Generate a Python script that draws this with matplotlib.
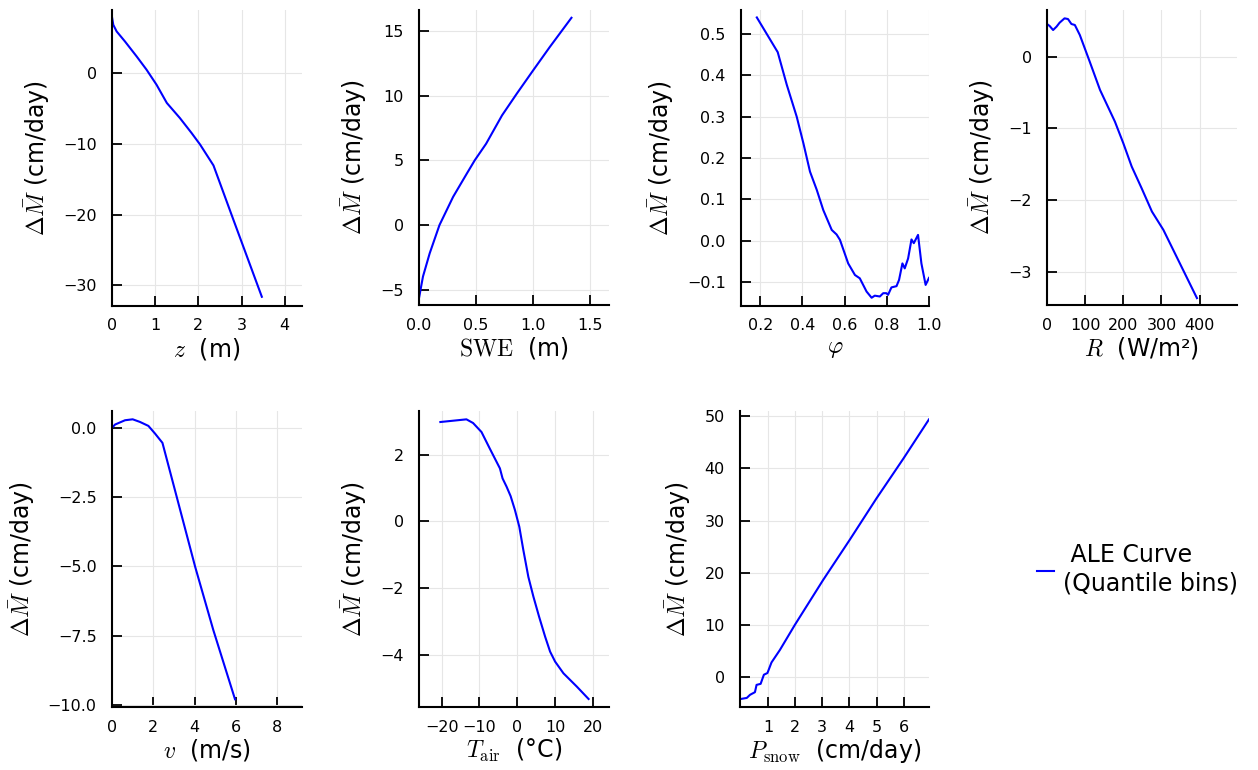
import numpy as np
import matplotlib
matplotlib.use('Agg')
import matplotlib.pyplot as plt
from matplotlib.lines import Line2D

plt.rcParams['mathtext.fontset'] = 'cm'
plt.rcParams['font.family'] = 'DejaVu Sans'

# ── ALE curves ───────────────────────────────────────────────────
z_x = [0, 0.03, 0.108, 0.30, 0.57, 0.80, 1.03, 1.27, 1.57, 1.84, 2.04, 2.35, 2.81, 3.47]
z_y = [7.9, 6.8, 5.87, 4.46, 2.35, 0.47, -1.64, -4.23, -6.34, -8.45, -10.1, -13.05, -20.7, -31.6]

swe_x = [0, 0.035, 0.094, 0.18, 0.30, 0.42, 0.49, 0.59, 0.73, 0.86, 1.0, 1.15, 1.34]
swe_y = [-5.64, -3.97, -2.18, 0.0, 2.18, 3.97, 5.0, 6.28, 8.47, 10.15, 11.9, 13.75, 16.0]

phi_x = [0.184, 0.283, 0.326, 0.373, 0.405, 0.436, 0.468, 0.499, 0.539, 0.562, 0.578,
         0.617, 0.649, 0.672, 0.704, 0.728, 0.743, 0.767, 0.783, 0.798, 0.806, 0.822,
         0.846, 0.858, 0.874, 0.885, 0.901, 0.917, 0.928, 0.948, 0.964, 0.984, 1.0]
phi_y = [0.540, 0.456, 0.377, 0.300, 0.235, 0.167, 0.123, 0.074, 0.026, 0.015, 0.002,
         -0.055, -0.083, -0.091, -0.123, -0.138, -0.133, -0.135, -0.127, -0.127, -0.131,
         -0.113, -0.110, -0.095, -0.055, -0.067, -0.043, 0.003, -0.006, 0.014, -0.055,
         -0.107, -0.090]

r_x = [0, 7, 16, 25, 33, 46, 55, 64, 73, 86, 99, 112, 139, 178, 200, 222, 248, 275, 305, 393]
r_y = [0.455, 0.427, 0.371, 0.418, 0.473, 0.534, 0.524, 0.455, 0.441, 0.302, 0.116,
       -0.07, -0.464, -0.905, -1.206, -1.531, -1.833, -2.158, -2.413, -3.364]

v_x = [0, 0.145, 0.63, 1.0, 1.35, 1.76, 2.08, 2.44, 3.13, 4.02, 4.9, 5.95]
v_y = [0, 0.12, 0.276, 0.31, 0.216, 0.072, -0.204, -0.54, -2.49, -5.01, -7.3, -9.8]

t_x = [-20.35, -13.45, -11.7, -9.47, -7.26, -4.6, -3.9, -2.83, -1.77, -0.62, 0.53, 1.6,
       2.92, 4.25, 5.75, 7.35, 8.67, 10.0, 12.2, 15.75, 18.85]
t_y = [2.98, 3.06, 2.95, 2.68, 2.18, 1.59, 1.29, 1.04, 0.76, 0.34, -0.16, -0.86,
       -1.66, -2.25, -2.85, -3.45, -3.9, -4.2, -4.55, -4.95, -5.32]

p_x = [0.0, 0.22, 0.34, 0.52, 0.58, 0.73, 0.85, 0.98, 1.13, 1.44, 1.99, 3.03, 4.01, 4.99, 5.99, 6.93]
p_y = [-4.2, -4.0, -3.4, -2.9, -1.5, -1.3, 0.45, 0.77, 2.8, 5.2, 10.0, 18.6, 26.3, 34.2, 41.9, 49.4]

YLABEL = r'$\Delta\bar{M}$ (cm/day)'

panels = [
    # (x, y, xlabel, xlim, ylim, xticks, yticks, pixel box l, t, r, b)
    (z_x, z_y, r'$z$  (m)', (0, 4.4), (-32.9, 8.9), [0, 1, 2, 3, 4], [0, -10, -20, -30], (112, 10, 302, 306)),
    (swe_x, swe_y, r'$\mathrm{SWE}$  (m)', (0, 1.67), (-6.17, 16.6), [0, 0.5, 1.0, 1.5], [-5, 0, 5, 10, 15], (419, 10, 609, 305)),
    (phi_x, phi_y, r'$\varphi$', (0.109, 1.0), (-0.158, 0.558), [0.2, 0.4, 0.6, 0.8, 1.0],
     [-0.1, 0.0, 0.1, 0.2, 0.3, 0.4, 0.5], (741, 10, 929, 306)),
    (r_x, r_y, r'$R$  (W/m²)', (0, 498), (-3.46, 0.65), [0, 100, 200, 300, 400], [0, -1, -2, -3], (1047, 10, 1237, 305)),
    (v_x, v_y, r'$v$  (m/s)', (0, 9.19), (-10.08, 0.61), [0, 2, 4, 6, 8], [0, -2.5, -5, -7.5, -10], (112, 411, 302, 707)),
    (t_x, t_y, r'$T_{\mathrm{air}}$  (°C)', (-26.0, 24.25), (-5.56, 3.31), [-20, -10, 0, 10, 20], [2, 0, -2, -4], (419, 411, 609, 707)),
    (p_x, p_y, r'$P_{\mathrm{snow}}$  (cm/day)', (-0.03, 6.93), (-5.74, 51.0), [1, 2, 3, 4, 5, 6],
     [0, 10, 20, 30, 40, 50], (740, 411, 929, 707)),
]

W, H = 1258, 770
fig = plt.figure(figsize=(W / 100, H / 100), dpi=100)

yfmts = ['{:.0f}', '{:.0f}', '{:.1f}', '{:.0f}', '{:.1f}', '{:.0f}', '{:.0f}']
xfmts = ['{:.0f}', '{:.1f}', '{:.1f}', '{:.0f}', '{:.0f}', '{:.0f}', '{:.0f}']

for i, (x, y, xl, xlim, ylim, xt, yt, box) in enumerate(panels):
    l, t, r, b = box
    ax = fig.add_axes([l / W, 1 - b / H, (r - l) / W, (b - t) / H])
    ax.plot(x, y, color='#0000ff', lw=1.5)
    ax.set_xlim(*xlim)
    ax.set_ylim(*ylim)
    ax.set_xticks(xt)
    ax.set_yticks(yt)
    ax.set_xticklabels([xfmts[i].format(v).replace('-', '\u2212') for v in xt])
    ax.set_yticklabels([yfmts[i].format(v).replace('-', '\u2212') for v in yt])
    ax.grid(True, color='#e6e6e6', lw=0.8)
    ax.set_axisbelow(True)
    for s in ('top', 'right'):
        ax.spines[s].set_visible(False)
    for s in ('left', 'bottom'):
        ax.spines[s].set_linewidth(1.5)
    ax.tick_params(direction='in', length=7.5, width=1.3, labelsize=11.5)
    ax.tick_params(axis='x', pad=9)
    ax.tick_params(axis='y', pad=11)
    ax.set_xlabel(xl, fontsize=17, labelpad=2)
    ax.set_ylabel(YLABEL, fontsize=17, labelpad=8)

# legend in the empty eighth slot
ax_leg = fig.add_axes([1047 / W, 1 - 707 / H, 190 / W, 296 / H])
ax_leg.axis('off')
handle = Line2D([], [], color='#0000ff', lw=1.5)
ax_leg.legend([handle], [' ALE Curve\n(Quantile bins)'], loc='center left',
              bbox_to_anchor=(-0.10, 0.465), frameon=False, fontsize=17,
              handlelength=0.7, handletextpad=0.4, borderaxespad=0.0)

fig.savefig('out.png', dpi=100)
